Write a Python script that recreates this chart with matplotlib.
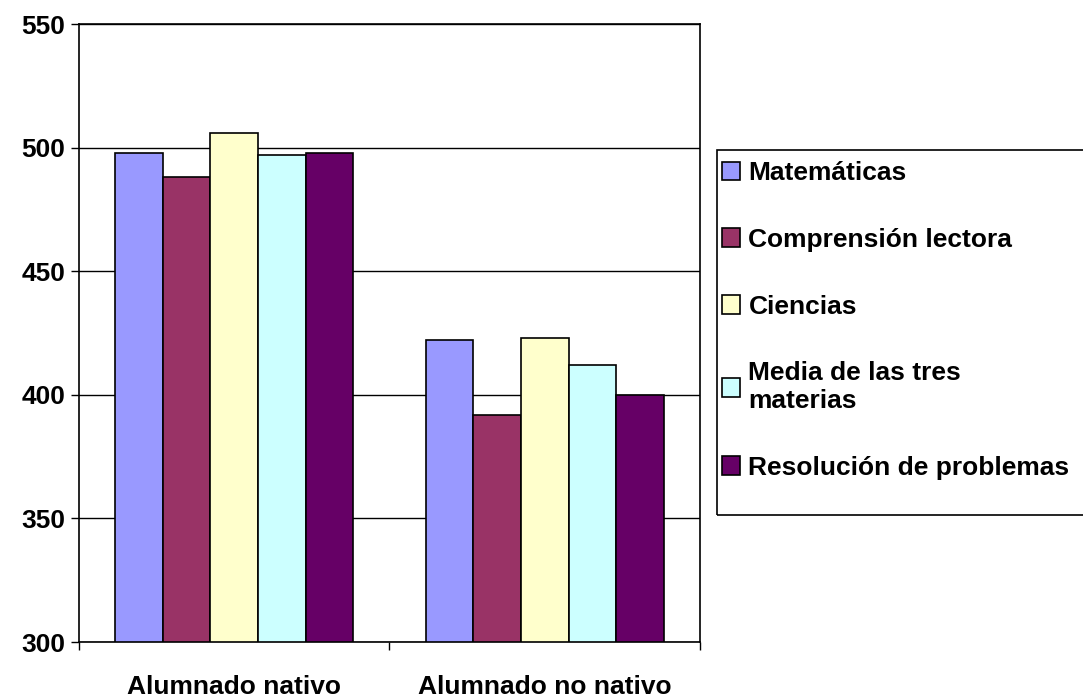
import matplotlib
matplotlib.use("Agg")
import matplotlib.pyplot as plt
import matplotlib.patches as mpatches
import numpy as np

plt.rcParams['font.family'] = ['Liberation Sans', 'DejaVu Sans']
plt.rcParams['font.weight'] = 'bold'

groups = ['Alumnado nativo', 'Alumnado no nativo']
series = ['Matemáticas', 'Comprensión lectora', 'Ciencias',
          'Media de las tres\nmaterias', 'Resolución de problemas']
colors = ['#9999FF', '#993366', '#FFFFCC', '#CCFFFF', '#660066']
matematicas = [498, 422]
comprension = [488, 392]
ciencias = [506, 423]
media = [497, 412]
resolucion = [498, 400]
values = [matematicas, comprension, ciencias, media, resolucion]

fig = plt.figure(figsize=(10.83, 6.99), dpi=100)
ax = fig.add_axes([79 / 1083, 57 / 699, 621 / 1083, 618 / 699])

x = np.arange(len(groups))
width = 0.767 / len(series)
for i, (name, vals, c) in enumerate(zip(series, values, colors)):
    pos = x + (i - 2) * width
    ax.bar(pos, np.array(vals) - 300, width, bottom=300, color=c,
           edgecolor='black', linewidth=1.2, label=name, zorder=3)

ax.set_ylim(300, 550)
ax.set_xlim(-0.5, 1.5)
ax.set_yticks([300, 350, 400, 450, 500, 550])
ax.yaxis.grid(True, color='black', linewidth=1.0, zorder=0)
ax.set_xticks([-0.5, 0.5, 1.5])
ax.set_xticklabels([])
ax.set_xticks(x, minor=True)
ax.set_xticklabels(groups, minor=True, fontsize=19, fontweight='bold')
ax.tick_params(axis='x', which='minor', length=0, pad=24)
ax.tick_params(axis='x', which='major', length=6, direction='out', width=1)
ax.tick_params(axis='y', length=6, direction='out', width=1, labelsize=19, pad=4)
for lbl in ax.get_yticklabels():
    lbl.set_fontweight('bold')
for s in ax.spines.values():
    s.set_linewidth(1.2)
    s.set_color('black')

# legend frame (runs off the right edge)
frame = mpatches.Rectangle((717 / 1083, (699 - 515) / 699), 0.5, 365 / 699,
                           transform=fig.transFigure, fill=False,
                           edgecolor='black', linewidth=1.2)
fig.patches.append(frame)

leg_handles = [mpatches.Patch(facecolor=c, edgecolor='black', linewidth=1.2)
               for c in colors]
fig.legend(leg_handles, series, loc='upper left',
           bbox_to_anchor=(722 / 1083, (699 - 161) / 699),
           frameon=False, prop={'weight': 'bold', 'size': 19},
           handlelength=0.7, handleheight=0.7, handletextpad=0.3,
           labelspacing=1.62, borderaxespad=0, borderpad=0)

fig.savefig('out.png', dpi=100)
